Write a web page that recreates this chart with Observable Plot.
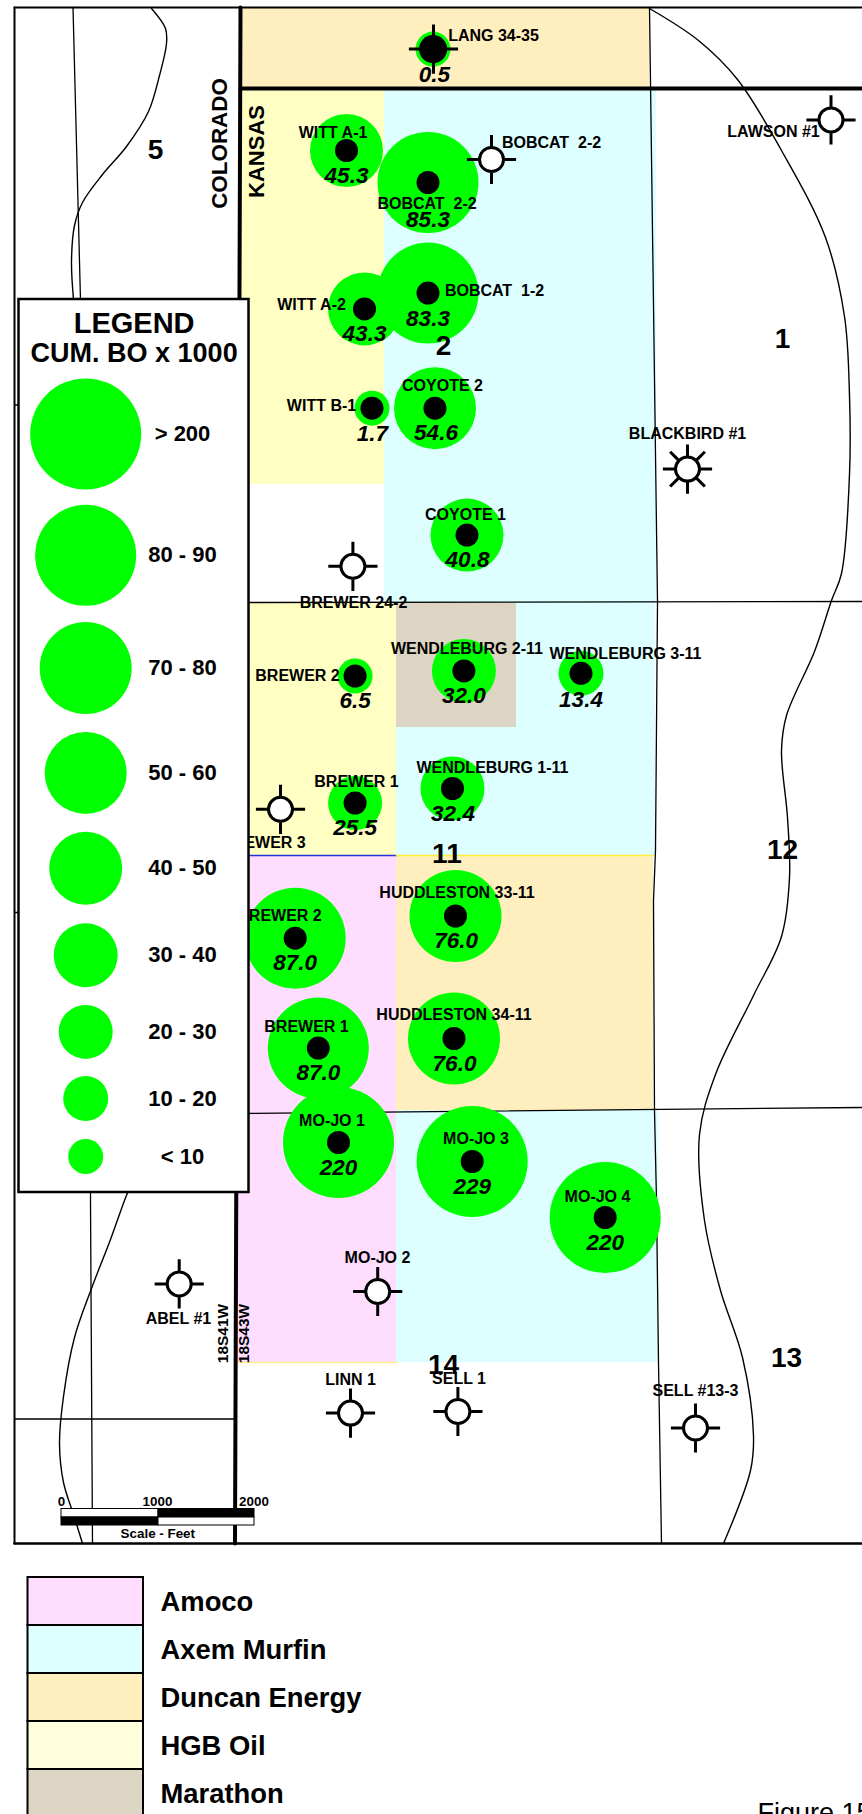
<!DOCTYPE html>
<html><head><meta charset="utf-8">
<script src="https://cdn.jsdelivr.net/npm/d3@7"></script>
<script src="https://cdn.jsdelivr.net/npm/@observablehq/plot@0.6"></script>
<style>html,body{margin:0;padding:0;background:#fff;overflow:hidden;width:862px;height:1814px}svg{display:block}</style>
</head><body><div id="chart"></div>
<script>
const FONT = "'Liberation Sans', Arial, sans-serif";
// Lease ownership blocks (map units match the picture's coordinates)
const owners = ["Amoco","Axem Murfin","Duncan Energy","HGB Oil","Marathon"];
const ownerColors = ["#FFDDFF","#DDFFFF","#FFEEBE","#FFFFC4","#DDD5C3"];
const swatchColors = ["#FFDDFF","#DDFFFF","#FFEEBE","#FFFFDD","#DDD5C3"];
const blocks = [
  ["Duncan Energy",240,649,7,88],
  ["HGB Oil",240,384,88,484],
  ["Axem Murfin",384,656,88,603],
  ["HGB Oil",240,396,603,855],
  ["Marathon",396,516,603,727],
  ["Axem Murfin",516,655,603,727],
  ["Axem Murfin",396,655,727,855],
  ["Duncan Energy",396,653,855,1110],
  ["Amoco",236,396,855,1362],
  ["Axem Murfin",396,658,1110,1362]
].map(([owner,x1,x2,y1,y2])=>({owner,x1,x2,y1,y2}));

const rightCurve = [[649,8],[698,40],[737,79],[781,150],[825,237],[844,316],[849,395],[849,474],[841,573],[831,600],[814,651],[786,715],[781,750],[787,817],[789,877],[781,936],[753,995],[715,1074],[699,1134],[704,1220],[720,1290],[742,1357],[753,1435],[750,1470],[723,1543]];
const leftCurveTop = [[151,8],[165,28],[166,43],[159,75],[148,111],[126,146],[102,174],[82,202],[74,225],[71,261],[73,299]];
const leftCurveBottom = [[128,1190],[124,1200],[110,1239],[91,1288],[74,1337],[63,1396],[59,1443],[63,1482],[74,1517],[82,1543]];
const sectionLines = [
  [[72.5,7],[80,300]],[[90,1190],[90,1200],[92,1543]],
  [[649,7],[657,602],[655,850],[653,900],[654,1110],[656,1200],[658,1362],[661,1543]],
  [[249,602],[862,601]],[[236,1113],[862,1107]],[[14,1418.5],[234,1418.5]],
  [[14,404.5],[19,404.5]],[[14,912],[18,912]]
];

// Producing wells: name, x, y, cum BO (thousands), cum label, label positions
const producers = [
  ["LANG 34-35",432.5,48.6,0.5,"0.5",493,35.6,434,74],
  ["WITT A-1",346,150,45.3,"45.3",332.5,132,346,175],
  ["BOBCAT  2-2",427.5,182,85.3,"85.3",426.5,203,427.5,219.5],
  ["WITT A-2",364,308.4,43.3,"43.3",311,304.5,364,333],
  ["BOBCAT  1-2",427.5,292.6,83.3,"83.3",494,290.6,427.5,318],
  ["WITT B-1",371.5,407.7,1.7,"1.7",321,405.3,372,433],
  ["COYOTE 2",434.5,407.7,54.6,"54.6",442,385.5,435.5,432],
  ["COYOTE 1",466.5,534.6,40.8,"40.8",465,514.4,467,559.5],
  ["BREWER 2",354.6,675.5,6.5,"6.5",297,675.5,354.6,700],
  ["WENDLEBURG 2-11",463.4,670.4,32.0,"32.0",466.5,648.6,463.4,695],
  ["WENDLEBURG 3-11",580.5,672.8,13.4,"13.4",625,653.4,580.5,699],
  ["BREWER 1",354.6,802.5,25.5,"25.5",356,781.5,354.6,827.4],
  ["WENDLEBURG 1-11",452,788,32.4,"32.4",492,767.7,452.5,813],
  ["HUDDLESTON 33-11",455,915.5,76.0,"76.0",456.5,892,455.7,940],
  ["HUDDLESTON 34-11",453.5,1038,76.0,"76.0",453.5,1014,454,1063],
  ["BREWER 2",294.7,937.7,87.0,"87.0",279,915.5,294.7,962],
  ["BREWER 1",317.8,1047.6,87.0,"87.0",306,1026.6,317.8,1072],
  ["MO-JO 1",338,1142,220,"220",331.5,1120.8,338,1167],
  ["MO-JO 3",471.7,1161,229,"229",475.5,1138.6,471.7,1186],
  ["MO-JO 4",604.7,1217,220,"220",597,1196,604.7,1242]
].map(([name,x,y,cum,label,nx,ny,vx,vy])=>({name,x,y,cum,label,nx,ny,vx,vy}));

// Non-producing wells
const dryWells = [
  ["LANG 34-35",433,48.6,null,null],
  ["BOBCAT  2-2",491,159,551,142],
  ["LAWSON #1",830.5,119.4,773,131],
  ["BLACKBIRD #1",687,468.6,687,433.8],
  ["BREWER 24-2",352.4,565.8,353,602.6],
  ["BREWER 3",280,808.8,263,842.4],
  ["MO-JO 2",377.2,1291,377,1257.5],
  ["ABEL #1",178.7,1283.4,178,1318.6],
  ["LINN 1",350,1412.6,350,1379],
  ["SELL 1",457.4,1411,458.5,1378],
  ["SELL #13-3",695,1427.5,695,1390.7]
].map(([name,x,y,nx,ny])=>({name,x,y,nx,ny}));

const sections = [["5",155,150],["2",443,346],["1",782,339],["11",446.4,854],["12",782,850],["14",443,1364.4],["13",786,1357.4]];
const rotated = [["COLORADO",219,143,22.4],["KANSAS",256,151,22],["18S41W",222.2,1333,15.5],["18S43W",244,1333,15.5]];

// Bubble legend
const classLabels = ["> 200","80 - 90","70 - 80","50 - 60","40 - 50","30 - 40","20 - 30","10 - 20","< 10"];
const classSamples = [250,85,75,55,45,35,25,15,5];
const classY = [433.4,554.8,667.6,772.4,867.7,954.7,1031.4,1098,1156];
const classThresholds = [10,20,30,40,50,70,80,90];
const classRadii = [17.5,22.5,27,32,36.5,41,46,50.5,55.5];
const radius = d3.scaleThreshold(classThresholds, classRadii);

// Scale bar
const scaleLabels = [["0",61],["1000",157],["2000",253.5]];
const scaleCells = [[61,158,1508.5,1517,"#fff"],[158,254,1508.5,1517,"#000"],[61,158,1517,1525,"#000"],[158,254,1517,1525,"#fff"]];

// Owner legend
const swatchTop = [1577,1625,1673,1721,1769];
const swatchBottom = [1625,1673,1721,1769,1820];

// Custom symbols
const crossSym = {draw(c,size){const r=Math.sqrt(size/Math.PI),a=r*2.05;
  c.moveTo(r,0);c.arc(0,0,r,0,2*Math.PI);
  c.moveTo(-a,0);c.lineTo(-r,0);c.moveTo(r,0);c.lineTo(a,0);
  c.moveTo(0,-a);c.lineTo(0,-r);c.moveTo(0,r);c.lineTo(0,a);}};
const sunSym = {draw(c,size){const r=Math.sqrt(size/Math.PI),k=r*Math.SQRT1_2,b=r*1.45;
  crossSym.draw(c,size);
  for(const [sx,sy] of [[1,1],[1,-1],[-1,1],[-1,-1]]){c.moveTo(sx*k,sy*k);c.lineTo(sx*b,sy*b);}}};

const txt = (data,o)=>Plot.text(data,{fontFamily:FONT,fontWeight:"bold",fill:"#000",...o});
const plain = dryWells.filter(d=>d.nx!=null);

const chart = Plot.plot({
  width:862,height:1814,margin:0,
  x:{domain:[0,862],range:[0,862],axis:null},
  y:{domain:[0,1814],range:[0,1814],axis:null},
  r:{type:"identity"},
  color:{domain:owners,range:ownerColors},
  style:{background:"#fff",overflow:"hidden"},
  marks:[
    Plot.rect(blocks,{x1:"x1",x2:"x2",y1:"y1",y2:"y2",fill:"owner"}),
    Plot.line([[249,855],[396,855]],{stroke:"#2233dd",strokeWidth:1.5}),
    Plot.line([[396,855],[653,855]],{stroke:"#ffee33",strokeWidth:1.5}),
    Plot.line([[236,1362],[396,1362]],{stroke:"#ffee88",strokeWidth:1.5}),
    ...sectionLines.map(l=>Plot.line(l,{stroke:"#000",strokeWidth:1.3})),
    ...[rightCurve,leftCurveTop,leftCurveBottom].map(l=>Plot.line(l,{curve:"catmull-rom",stroke:"#000",strokeWidth:1.4})),
    Plot.line([[240,7],[234.5,1543]],{stroke:"#000",strokeWidth:4}),
    Plot.line([[240,88],[862,88]],{stroke:"#000",strokeWidth:4}),
    Plot.line([[14,7],[862,7]],{stroke:"#000",strokeWidth:2}),
    Plot.line([[14,7],[14,1543]],{stroke:"#000",strokeWidth:2}),
    Plot.line([[14,1543],[862,1543]],{stroke:"#000",strokeWidth:2.5}),

    Plot.dot(producers,{x:"x",y:"y",r:d=>radius(d.cum),fill:"#00FF00",stroke:"none"}),
    Plot.dot(dryWells.filter(d=>d.name!=="BLACKBIRD #1"),{x:"x",y:"y",r:12,symbol:crossSym,fill:"#fff",stroke:"#000",strokeWidth:3}),
    Plot.dot(dryWells.filter(d=>d.name==="BLACKBIRD #1"),{x:"x",y:"y",r:12,symbol:sunSym,fill:"#fff",stroke:"#000",strokeWidth:3}),
    Plot.dot(producers,{x:"x",y:"y",r:d=>d.cum<1?14:11.5,fill:"#000",stroke:"none"}),

    txt(producers,{x:"nx",y:"ny",text:"name",fontSize:16}),
    txt(plain,{x:"nx",y:"ny",text:"name",fontSize:16}),
    txt(producers,{x:"vx",y:"vy",text:"label",fontSize:22.5,fontStyle:"italic"}),
    txt(sections,{x:"1",y:"2",text:"0",fontSize:28}),
    ...rotated.map(([t,x,y,s])=>txt([t],{x:()=>x,y:()=>y,text:d=>d,rotate:-90,fontSize:s})),

    // Bubble legend box
    Plot.rect([0],{x1:()=>18.5,x2:()=>248.5,y1:()=>299,y2:()=>1192,fill:"#fff",stroke:"#000",strokeWidth:2.5}),
    txt(["LEGEND"],{x:()=>133.6,y:()=>323.4,text:d=>d,fontSize:29}),
    txt(["CUM. BO x 1000"],{x:()=>133.6,y:()=>353,text:d=>d,fontSize:27}),
    Plot.dot(classSamples,{x:()=>85.2,y:(d,i)=>classY[i],r:d=>radius(d),fill:"#00FF00",stroke:"none"}),
    txt(classLabels,{x:()=>182,y:(d,i)=>classY[i],text:d=>d,fontSize:22}),

    // Scale bar
    Plot.rect(scaleCells,{x1:"0",x2:"1",y1:"2",y2:"3",fill:"4",stroke:"#000",strokeWidth:1}),
    txt(scaleLabels,{x:"1",y:()=>1501,text:"0",fontSize:13.4}),
    txt(["Scale - Feet"],{x:()=>157.3,y:()=>1533,text:d=>d,fontSize:13.4}),

    // Owner legend
    Plot.rect(owners,{x1:()=>27.5,x2:()=>143,y1:(d,i)=>swatchTop[i],y2:(d,i)=>swatchBottom[i],fill:(d,i)=>swatchColors[i],stroke:"#000",strokeWidth:2}),
    txt(owners,{x:()=>160,y:(d,i)=>swatchTop[i]+25,text:d=>d,fontSize:27.4,textAnchor:"start"}),
    Plot.text(["Figure 15"],{x:()=>757,y:()=>1813,text:d=>d,fontFamily:FONT,fontSize:27,textAnchor:"start",fill:"#000"})
  ]
});
document.getElementById("chart").append(chart);
</script></body></html>
